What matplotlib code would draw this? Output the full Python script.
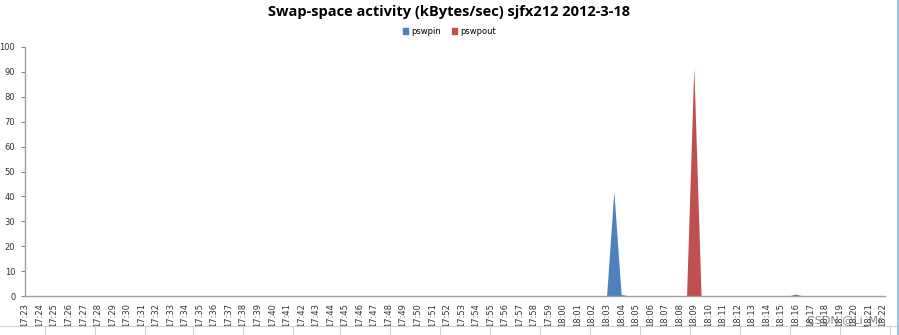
import matplotlib
matplotlib.use("Agg")
import matplotlib.pyplot as plt
from matplotlib.lines import Line2D
from matplotlib.patches import Patch

# minute labels along the category axis (one label every second sample)
minute_labels = ["17:%02d" % m for m in range(23, 60)] + ["18:%02d" % m for m in range(0, 23)]

# samples every 30 s, 17:23:00 .. 18:22:00
pswpin = [0] * 81 + [42, 0.7] + [0] * 23 + [0.8] + [0] * 12
pswpout = [0] * 92 + [92] + [0] * 26

blue = "#4F81BD"
red = "#C0504D"

x = list(range(len(pswpin)))

fig = plt.figure(figsize=(8.99, 3.35), dpi=100)
ax = fig.add_axes([25 / 899, 39 / 335, 860 / 899, 249 / 335])

ax.fill_between(x, pswpin, 0, color=blue, lw=0)
ax.fill_between(x, pswpout, 0, color=red, lw=0)

ax.set_xlim(0, 118.3)
ax.set_ylim(0, 100)
ax.set_yticks(range(0, 101, 10))
ax.tick_params(axis="y", labelsize=6, colors="#888888", labelcolor="#333333",
               length=3, width=0.8, pad=4)
ax.set_xticks(x[::2])
ax.set_xticklabels(minute_labels, rotation=90, fontsize=6, color="#333333")
ax.tick_params(axis="x", length=0, pad=5)

for s in ["top", "right"]:
    ax.spines[s].set_visible(False)
for s in ["left", "bottom"]:
    ax.spines[s].set_color("#a0a0a0")
    ax.spines[s].set_linewidth(1)

fig.text(0.5, 1 - 12 / 335, "Swap-space activity (kBytes/sec) sjfx212 2012-3-18",
         ha="center", va="center", fontsize=10.5, fontweight="bold", family="Open Sans")

handles = [Patch(color=blue, label="pswpin"), Patch(color=red, label="pswpout")]
fig.legend(handles=handles, loc="center", bbox_to_anchor=(0.5, 1 - 31 / 335),
           ncol=2, frameon=False, fontsize=6, handlelength=0.7, handleheight=0.7,
           columnspacing=1.2, handletextpad=0.4)

# spreadsheet border bits around the chart
fig.add_artist(Line2D([0, 1], [1 - 326 / 335] * 2, color="#d0d0d0", lw=0.8))
for px in [45, 95, 145, 193, 243, 293, 340, 390, 440, 490, 540, 590, 640, 690, 740, 790, 840, 890]:
    fig.add_artist(Line2D([px / 899] * 2, [0, 1 - 326 / 335], color="#d0d0d0", lw=0.8))
fig.add_artist(Line2D([898 / 899] * 2, [0, 1], color="#8fb4e3", lw=1.2))

# watermark sits over the last tick labels, as in the screenshot
fig.text(845 / 899, 1 - 321 / 335, "CSDN @Li_Mr", ha="center", va="center",
         fontsize=8, color="#666666", alpha=0.8)

fig.savefig("out.png", dpi=100)
